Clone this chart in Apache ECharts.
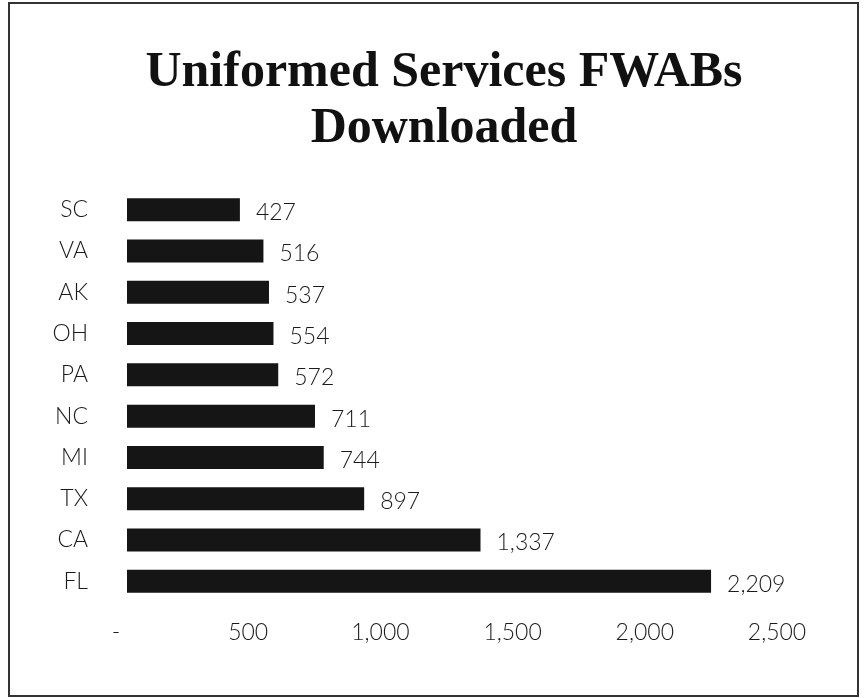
<!DOCTYPE html>
<html>
<head>
<meta charset="utf-8">
<script src="https://cdn.jsdelivr.net/npm/echarts@6/dist/echarts.min.js"></script>
<style>
html,body{margin:0;padding:0;background:#fff;}
#chart{width:865px;height:698px;}
</style>
</head>
<body>
<div id="chart"></div>
<script>
var titleLines = ['Uniformed Services FWABs', 'Downloaded'];
var states = ['FL', 'CA', 'TX', 'MI', 'NC', 'PA', 'OH', 'AK', 'VA', 'SC'];
var downloads = [2209, 1337, 897, 744, 711, 572, 554, 537, 516, 427];
var xTicks = [0, 500, 1000, 1500, 2000, 2500];

function fmt(v) {
  if (v === 0) return '-';
  return String(v).replace(/\B(?=(\d{3})+(?!\d))/g, ',');
}

var chart = echarts.init(document.getElementById('chart'), null, {renderer: 'canvas'});
var labelFont = 'Lato, "DejaVu Sans", sans-serif';
chart.setOption({
  animation: false,
  backgroundColor: '#ffffff',
  title: {
    text: titleLines.join('\n'),
    left: 439,
    textAlign: 'center',
    top: 40,
    textStyle: {
      fontFamily: '"Liberation Serif", "Times New Roman", serif',
      fontWeight: 'bold',
      fontSize: 50,
      lineHeight: 56,
      color: '#111111'
    }
  },
  graphic: [{
    type: 'rect',
    shape: {x: 9, y: 3, width: 849, height: 693},
    style: {fill: 'none', stroke: '#333333', lineWidth: 2},
    silent: true
  }],
  grid: {left: 127, right: 77, top: 189, height: 413, containLabel: false},
  xAxis: {
    type: 'value',
    min: xTicks[0],
    max: xTicks[xTicks.length - 1],
    interval: 500,
    axisLine: {show: false},
    axisTick: {show: false},
    splitLine: {show: false},
    axisLabel: {
      formatter: fmt,
      fontFamily: labelFont,
      fontWeight: 300,
      fontSize: 23,
      color: '#1a1a1a',
      margin: 19,
      padding: [0, 22, 0, 0]
    }
  },
  yAxis: {
    type: 'category',
    data: states,
    axisLine: {show: false},
    axisTick: {show: false},
    axisLabel: {
      fontFamily: labelFont,
      fontWeight: 300,
      fontSize: 23,
      color: '#1a1a1a',
      margin: 39
    }
  },
  series: [{
    type: 'bar',
    data: downloads,
    barWidth: 23,
    itemStyle: {color: '#151515'},
    label: {
      show: true,
      position: 'right',
      distance: 16,
      offset: [0, 3],
      formatter: function (p) { return fmt(p.value); },
      fontFamily: labelFont,
      fontWeight: 300,
      fontSize: 23,
      color: '#1a1a1a'
    }
  }]
});
</script>
</body>
</html>
